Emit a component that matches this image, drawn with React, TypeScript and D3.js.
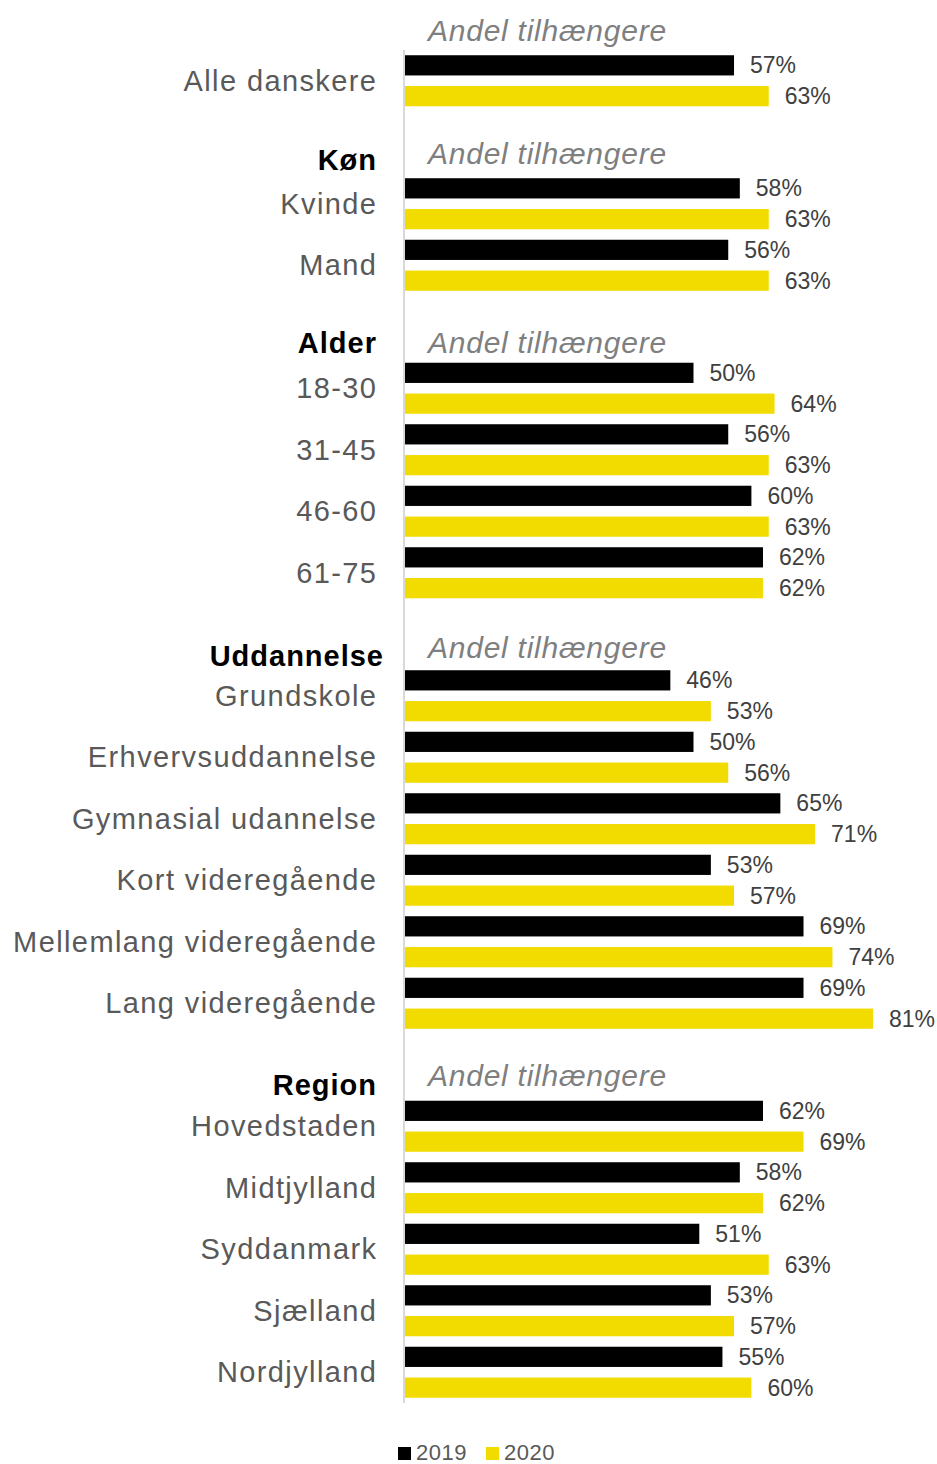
import React from "react";
import * as d3 from "d3";

const categories = [
  "Alle danskere",
  "#Køn",
  "Kvinde",
  "Mand",
  "#Alder",
  "18-30",
  "31-45",
  "46-60",
  "61-75",
  "#Uddannelse",
  "Grundskole",
  "Erhvervsuddannelse",
  "Gymnasial udannelse",
  "Kort videregående",
  "Mellemlang videregående",
  "Lang videregående",
  "#Region",
  "Hovedstaden",
  "Midtjylland",
  "Syddanmark",
  "Sjælland",
  "Nordjylland",
];

const values2019: (number | null)[] = [57, null, 58, 56, null, 50, 56, 60, 62, null, 46, 50, 65, 53, 69, 69, null, 62, 58, 51, 53, 55];
const values2020: (number | null)[] = [63, null, 63, 63, null, 64, 63, 63, 62, null, 53, 56, 71, 57, 74, 81, null, 69, 62, 63, 57, 60];

const seriesNames = ["2019", "2020"];
const seriesColors = ["#000000", "#f2dc00"];
const subtitle = "Andel tilhængere";

const W = 937;
const H = 1464;
const FONT = "'Liberation Sans', Arial, Helvetica, sans-serif";

export default function App() {
  const slots = categories.map((c, i) => String(i));
  const y = d3.scaleBand<string>().domain(slots).range([50, 1403]).paddingInner(0).paddingOuter(0);
  const step = y.step();
  const inner = d3.scaleBand<string>().domain(seriesNames).range([0, step]).paddingInner(0.344).paddingOuter(0.17);
  const x = d3.scaleLinear().domain([0, 100]).range([404, 983]);

  const headerIdx = categories.map((c, i) => (c.startsWith("#") ? i : -1)).filter((i) => i >= 0);
  const subtitleSlots = [-1, ...headerIdx];
  const headerOffsets: Record<string, number> = { "Køn": 18, Alder: 16, Uddannelse: 22, Region: 20 };
  const subtitleOffsets = [11, 11, 16, 13, 11];

  const slotCenter = (i: number) => 50 + step * i + step / 2;
  const catLS = 1.4;
  const headLS = 1.0;

  return (
    <svg width={W} height={H} style={{ position: "absolute", left: 0, top: 0, background: "#fff" }} fontFamily={FONT}>
      <rect x={0} y={0} width={W} height={H} fill="#fff" />
      {/* axis line */}
      <line x1={404} x2={404} y1={y.range()[0]} y2={y.range()[1]} stroke="#d9d9d9" strokeWidth={2} />
      {/* subtitles */}
      {subtitleSlots.map((s, k) => (
        <text key={"sub" + k} x={428} y={slotCenter(s) + subtitleOffsets[k]} dy="0.35em" fontSize={30} fontStyle="italic" letterSpacing={0.75} fill="#7f7f7f">
          {subtitle}
        </text>
      ))}
      {categories.map((c, i) => {
        if (c.startsWith("#")) {
          const name = c.slice(1);
          return (
            <text key={"h" + i} x={(name === "Uddannelse" ? 383 : 376) + headLS} y={slotCenter(i) + headerOffsets[name]} dy="0.35em" textAnchor="end" fontSize={29} fontWeight="bold" letterSpacing={headLS} fill="#000">
              {name}
            </text>
          );
        }
        const vals = [values2019[i], values2020[i]];
        const top = y(String(i))!;
        return (
          <g key={"c" + i}>
            <text x={376 + catLS} y={slotCenter(i)} dy="0.35em" textAnchor="end" fontSize={29} letterSpacing={catLS} fill="#595959">
              {c}
            </text>
            {vals.map((v, k) => {
              if (v == null) return null;
              const by = top + inner(seriesNames[k])!;
              return (
                <g key={k}>
                  <rect x={x(0) + 1} y={by} width={x(v) - x(0) - 1} height={inner.bandwidth()} fill={seriesColors[k]} />
                  <text x={x(v) + 16} y={by + inner.bandwidth() / 2} dy="0.35em" fontSize={23} fill="#404040">
                    {v}%
                  </text>
                </g>
              );
            })}
          </g>
        );
      })}
      {/* legend */}
      {seriesNames.map((s, k) => (
        <g key={"lg" + s} transform={`translate(${398 + k * 88},1447)`}>
          <rect x={0} y={0} width={13} height={13} fill={seriesColors[k]} />
          <text x={18} y={12.5} fontSize={22} letterSpacing={0.5} fill="#595959">
            {s}
          </text>
        </g>
      ))}
    </svg>
  );
}
